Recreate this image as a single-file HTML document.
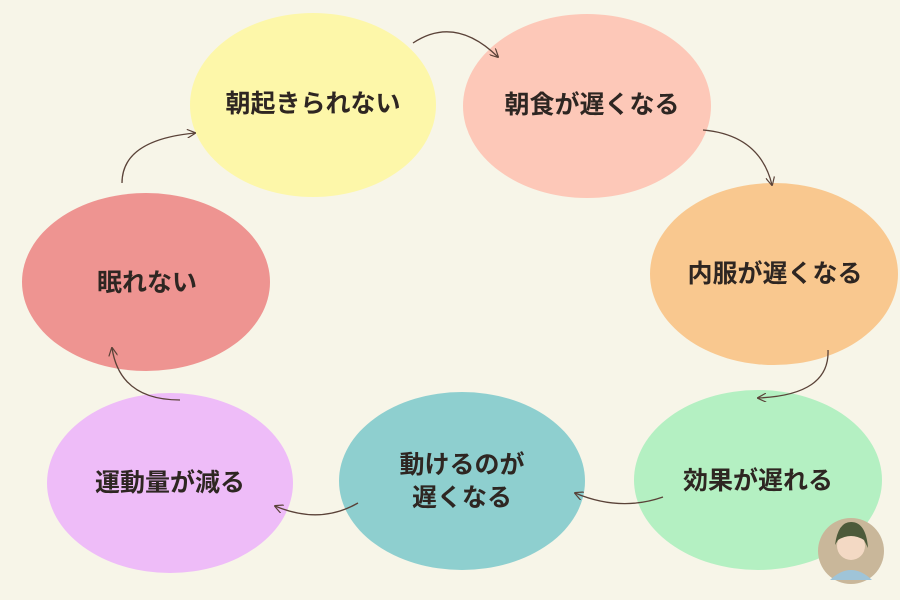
<!DOCTYPE html>
<html><head><meta charset="utf-8"><style>
html,body{margin:0;padding:0;background:#f7f5e8;}
svg{display:block}
text{font-family:"Liberation Sans","Noto Sans CJK JP",sans-serif;font-weight:bold;font-size:25px;fill:#2e2622;text-anchor:middle;dominant-baseline:central}
</style></head><body>
<svg width="900" height="600" viewBox="0 0 900 600">
<defs>
<marker id="a" viewBox="0 0 10 10" refX="9" refY="5" markerWidth="9" markerHeight="9" orient="auto" markerUnits="userSpaceOnUse">
<path d="M0,0 L10,5 L0,10" fill="none" stroke="#5a4238" stroke-width="1.3"/>
</marker>
</defs>
<rect width="900" height="600" fill="#f7f5e8"/>
<ellipse cx="313" cy="105" rx="123" ry="92" fill="#fdf7a9"/>
<ellipse cx="587" cy="106" rx="124" ry="92" fill="#fdc8b8"/>
<ellipse cx="774" cy="274" rx="124" ry="91" fill="#f9c88f"/>
<ellipse cx="758" cy="480" rx="124" ry="90" fill="#b4f0c2"/>
<ellipse cx="462" cy="481" rx="123" ry="89" fill="#8ecfcf"/>
<ellipse cx="170" cy="483" rx="123" ry="90" fill="#eebcf8"/>
<ellipse cx="146" cy="282" rx="124" ry="89" fill="#ee9491"/>
<g fill="none" stroke="#5a4238" stroke-width="1.3" marker-end="url(#a)">
<path d="M413,43 Q455,15 498,57"/>
<path d="M703,130 Q760,135 772,185"/>
<path d="M828,350 Q830,395 758,398"/>
<path d="M663,497 Q620,512 575,493"/>
<path d="M358,503 Q320,525 275,506"/>
<path d="M180,400 Q120,400 112,348"/>
<path d="M122,183 Q122,140 195,133"/>
</g>
<text x="313" y="104">朝起きられない</text>
<text x="592" y="105">朝食が遅くなる</text>
<text x="775" y="274">内服が遅くなる</text>
<text x="758" y="481">効果が遅れる</text>
<text x="462" y="465">動けるのが</text>
<text x="462" y="498">遅くなる</text>
<text x="170" y="483">運動量が減る</text>
<text x="147" y="283">眠れない</text>
<circle cx="851" cy="551" r="33" fill="#c9b79a"/>
<circle cx="851" cy="546" r="14" fill="#f3d9c4"/>
<path d="M835,545 Q838,522 851,522 Q866,522 868,548 L864,540 Q851,532 838,540 Z" fill="#4c5a3a"/>
<path d="M830,580 Q851,560 872,580 Z" fill="#9fc4d8"/>
</svg>
</body></html>
